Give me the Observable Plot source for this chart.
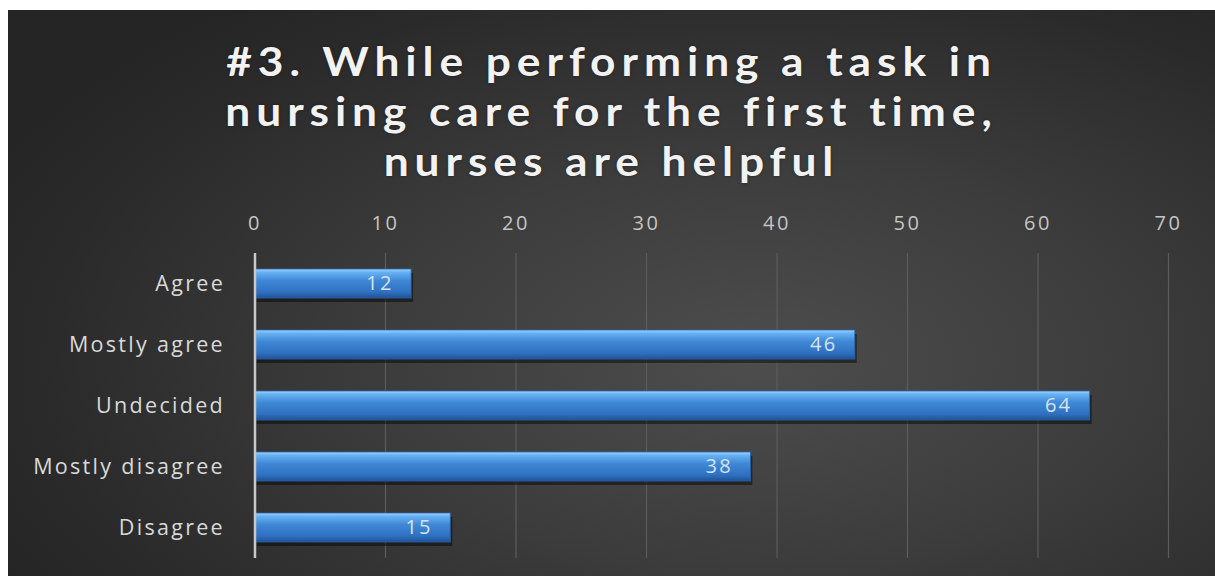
<!DOCTYPE html>
<html>
<head>
<meta charset="utf-8">
<script src="https://cdn.jsdelivr.net/npm/d3@7"></script>
<script src="https://cdn.jsdelivr.net/npm/@observablehq/plot@0.6"></script>
<style>
  html, body { margin: 0; padding: 0; background: #ffffff; width: 1215px; height: 576px; overflow: hidden; }
  #panel {
    position: absolute; left: 8px; top: 10px; width: 1207px; height: 566px;
    background: radial-gradient(ellipse 70% 80% at 62% 62%, #4d4d4d 0%, #3c3c3c 45%, #2a2a2a 85%, #252525 100%);
    overflow: hidden;
  }
  #title {
    position: absolute; left: 0; top: 26px; width: 1207px; text-align: center;
    font-family: Lato, sans-serif; font-weight: 700; font-size: 41px;
    color: #f2f2f2; text-shadow: 0 0 3px rgba(0,0,0,0.4);
    transform: scaleX(1.08); transform-origin: 50% 50%;
  }
  #title div { height: 50px; line-height: 50px; letter-spacing: 5.5px; white-space: nowrap; }
  #chart { position: absolute; left: 0; top: 190px; }
</style>
</head>
<body>
<div id="panel">
  <div id="title"><div>#3. While performing a task in</div><div>nursing care for the first time,</div><div>nurses are helpful</div></div>
  <div id="chart"></div>
</div>
<script>
const categories = ["Agree", "Mostly agree", "Undecided", "Mostly disagree", "Disagree"];
const values = [12, 46, 64, 38, 15];
const xTicks = [0, 10, 20, 30, 40, 50, 60, 70];

const data = categories.map((c, i) => ({category: c, value: values[i]}));

const plot = Plot.plot({
  width: 1207,
  height: 376,
  marginLeft: 246.5,
  marginRight: 47,
  marginTop: 53,
  marginBottom: 18,
  style: {background: "transparent", fontFamily: "'Open Sans', sans-serif"},
  x: {domain: [0, 70], ticks: xTicks, axis: null, label: null},
  y: {domain: categories, paddingInner: 0.52, paddingOuter: 0.26, axis: null, label: null},
  marks: [
    Plot.gridX(xTicks, {stroke: "#5c5c5c", strokeOpacity: 1, strokeWidth: 1.2}),
    Plot.axisX(xTicks, {anchor: "top", label: null, tickSize: 0, tickPadding: 24, fontSize: 20, fill: "#c4c4c4"}),
    Plot.axisY({anchor: "left", label: null, tickSize: 0, tickPadding: 30, fontSize: 21.5, fill: "#d9d9d9"}),
    Plot.barX(data, {x: "value", y: "category", fill: "#000", fillOpacity: 0.45, dx: 2, dy: 4}),
    Plot.barX(data, {x: "value", y: "category", fill: "url(#barGrad)", stroke: "#2a64ad", strokeWidth: 0.8}),
    Plot.ruleX([0], {stroke: "#c8c8c8", strokeWidth: 2.5}),
    Plot.text(data, {x: "value", y: "category", text: d => String(d.value), textAnchor: "end", dx: -18, fontSize: 20, fill: "#d6e3f3"})
  ]
});

const svg = d3.select(plot);
const defs = svg.insert("defs", ":first-child");
const g = defs.append("linearGradient").attr("id", "barGrad").attr("x1", 0).attr("y1", 0).attr("x2", 0).attr("y2", 1);
[["0%", "#9fd3ff"], ["12%", "#66b0f2"], ["40%", "#3f88d6"], ["80%", "#2f70c0"], ["100%", "#1f5294"]]
  .forEach(([o, c]) => g.append("stop").attr("offset", o).attr("stop-color", c));

svg.selectAll('g[aria-label="x-axis tick label"] text').attr("letter-spacing", 2.5);
svg.selectAll('g[aria-label="y-axis tick label"] text').attr("letter-spacing", 2.3);
svg.selectAll('g[aria-label="text"] text').attr("letter-spacing", 2.2);

document.getElementById("chart").appendChild(plot);
</script>
</body>
</html>
